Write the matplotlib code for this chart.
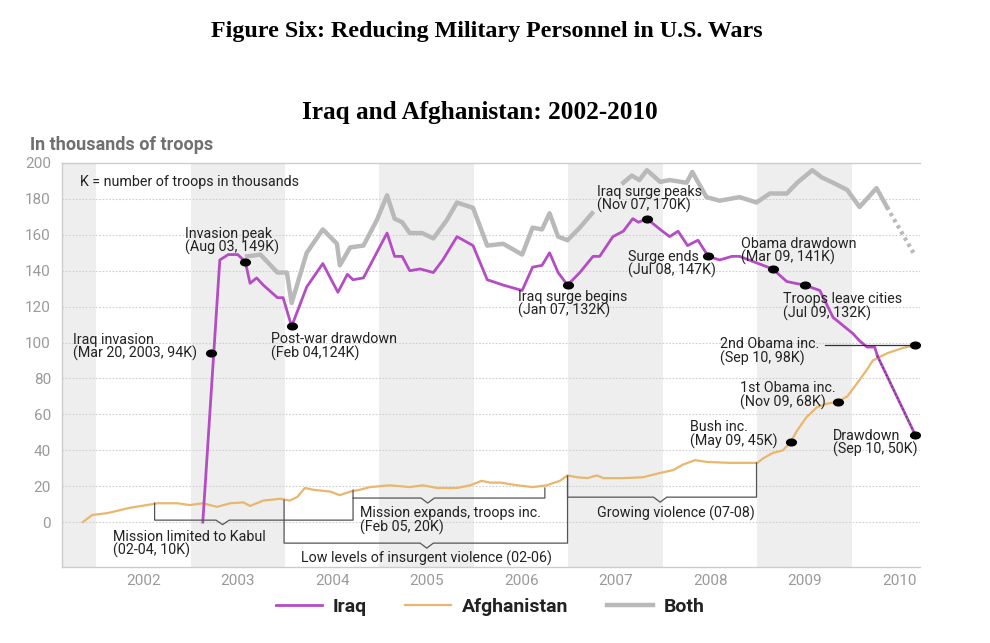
import numpy as np
import matplotlib
matplotlib.use("Agg")
import matplotlib.pyplot as plt
from matplotlib.lines import Line2D
from matplotlib.path import Path
import matplotlib.transforms as mtransforms

# values (decimal year, thousands of troops)
iraq_x = [2003.13, 2003.31, 2003.40, 2003.50, 2003.58, 2003.63, 2003.70, 2003.77, 2003.92, 2003.98,
          2004.07, 2004.23, 2004.40, 2004.56, 2004.66, 2004.72, 2004.83, 2005.08, 2005.16, 2005.24,
          2005.32, 2005.43, 2005.57, 2005.67, 2005.82, 2005.99, 2006.14, 2006.31, 2006.51, 2006.62,
          2006.72, 2006.80, 2006.89, 2006.99, 2007.12, 2007.26, 2007.33, 2007.47, 2007.58, 2007.68,
          2007.74, 2007.83, 2007.97, 2008.07, 2008.16, 2008.26, 2008.37, 2008.48, 2008.60, 2008.73,
          2008.81, 2009.16, 2009.31, 2009.40, 2009.50, 2009.66, 2009.80, 2010.01, 2010.08, 2010.16,
          2010.24, 2010.27]
iraq_y = [0, 146, 149, 149, 145, 133, 136, 132, 125, 125,
          109, 131, 144, 128, 138, 135, 136, 161, 148, 148,
          140, 141, 139, 146, 159, 154, 135, 132, 129, 142,
          143, 150, 139, 132, 139, 148, 148, 159, 162, 169,
          167, 169, 163, 159, 162, 154, 157, 148, 146, 148,
          148, 141, 134, 133, 132, 129, 114, 105, 101, 97.5,
          97.5, 92.5]
iraq_proj_x = [2010.27, 2010.67]
iraq_proj_y = [92.5, 48.5]

afgh_x = [2001.86, 2001.96, 2002.12, 2002.36, 2002.54, 2002.65, 2002.86, 2002.99, 2003.13, 2003.28,
          2003.42, 2003.56, 2003.63, 2003.77, 2003.95, 2004.05, 2004.13, 2004.21, 2004.30, 2004.48,
          2004.58, 2004.69, 2004.79, 2004.90, 2005.11, 2005.32, 2005.46, 2005.61, 2005.82, 2005.96,
          2006.08, 2006.17, 2006.28, 2006.46, 2006.62, 2006.77, 2006.91, 2006.99, 2007.09, 2007.20,
          2007.30, 2007.37, 2007.58, 2007.79, 2007.94, 2008.11, 2008.21, 2008.34, 2008.47, 2008.71,
          2009.00, 2009.06, 2009.16, 2009.27, 2009.35, 2009.42, 2009.52, 2009.63, 2009.74, 2009.85,
          2009.95, 2010.05, 2010.16, 2010.22, 2010.37, 2010.54, 2010.67]
afgh_y = [0, 4, 5, 8, 9.5, 10.5, 10.5, 9.5, 10.5, 8.5,
          10.5, 11, 9, 12, 13, 12, 14, 19, 18, 17,
          15, 17, 18, 19.5, 20.5, 19.5, 20.5, 19, 19, 20.5,
          23, 22, 22, 20.5, 19.5, 20.5, 23, 26, 25, 24.5,
          26, 24.5, 24.5, 25, 27, 29, 32, 34.5, 33.5, 33,
          33, 35.5, 38.5, 40, 44.5, 51, 58.5, 64, 66, 67,
          70, 77, 85, 90, 94, 97, 98.5]

# gap where the "Iraq surge peaks" label hides the line
both_x = [2003.60, 2003.74, 2003.92, 2004.02, 2004.07, 2004.23, 2004.40, 2004.55, 2004.58, 2004.69,
          2004.83, 2004.97, 2005.08, 2005.16, 2005.24, 2005.32, 2005.45, 2005.57, 2005.71, 2005.82,
          2005.99, 2006.14, 2006.31, 2006.51, 2006.62, 2006.72, 2006.80, 2006.89, 2006.99, 2007.12,
          2007.25, 2007.40, 2007.58, 2007.67, 2007.75, 2007.83, 2007.97, 2008.07, 2008.25, 2008.31,
          2008.46, 2008.60, 2008.81, 2008.99, 2009.13, 2009.31, 2009.42, 2009.58, 2009.68, 2009.80,
          2009.95, 2010.08, 2010.26, 2010.37]
both_y = [148, 149, 139, 139, 122, 150, 163, 155, 143, 153,
          154, 168, 182, 169, 167, 161, 161, 158, 168, 178,
          175, 154, 155, 149, 164, 163, 172, 159, 157, 164,
          172, np.nan, 189, 193, 190.5, 196, 189.5, 190.5, 189, 195,
          181, 179, 181, 178, 183, 183, 189, 196, 192, 189,
          185, 175.5, 186, 175.5]
both_proj_x = [2010.37, 2010.65]
both_proj_y = [175.5, 150]

# labelled events: dot position and label
event_x = [2003.22, 2003.58, 2004.07, 2006.99, 2007.83, 2008.48, 2009.16, 2009.50,
           2010.67, 2009.85, 2009.35, 2010.67]
event_y = [94, 145, 109, 132, 169, 148, 141, 132, 98.5, 67, 44.5, 48.5]
event_labels = ["Iraq invasion\n(Mar 20, 2003, 94K)", "Invasion peak\n(Aug 03, 149K)",
                "Post-war drawdown\n(Feb 04,124K)", "Iraq surge begins\n(Jan 07, 132K)",
                "Iraq surge peaks\n(Nov 07, 170K)", "Surge ends\n(Jul 08, 147K)",
                "Obama drawdown\n(Mar 09, 141K)", "Troops leave cities\n(Jul 09, 132K)",
                "2nd Obama inc.\n(Sep 10, 98K)", "1st Obama inc.\n(Nov 09, 68K)",
                "Bush inc.\n(May 09, 45K)", "Drawdown\n(Sep 10, 50K)"]
label_x = [2001.76, 2002.94, 2003.85, 2006.47, 2007.30, 2007.63, 2008.83, 2009.27,
           2008.60, 2008.82, 2008.29, 2009.80]
label_y = [97.5, 156.5, 98, 121.5, 180, 143.7, 151, 120, 95, 70.7, 49, 44]

shaded_years = [2001, 2003, 2005, 2007, 2009]
year_labels = ["2002", "2003", "2004", "2005", "2006", "2007", "2008", "2009", "2010"]
y_ticks = [0, 20, 40, 60, 80, 100, 120, 140, 160, 180, 200]

purple = "#b44cc4"
tan = "#e9b76c"
grey = "#b9b9b9"
bracket_col = "#555555"
ann_font = "Roboto"
ann_size = 10.3

fig = plt.figure(figsize=(9.9, 6.43), dpi=100)
ax = fig.add_axes([62 / 990, 76 / 643, 858 / 990, 404 / 643])
ax.set_xlim(2001.64, 2010.72)
ax.set_ylim(-25, 200)

for yr in shaded_years:
    ax.axvspan(yr, yr + 1, color="#eeeeee", lw=0, zorder=0)
for t in y_ticks[:-1]:
    ax.axhline(t, color="#cfcfcf", lw=0.8, ls=(0, (1.5, 1.5)), zorder=1)

ax.plot(both_x, both_y, color=grey, lw=3.2, zorder=2, solid_joinstyle="round")
ax.plot(both_proj_x, both_proj_y, color=grey, lw=3.0, ls=(0, (0.8, 0.9)), zorder=2)
ax.plot(afgh_x, afgh_y, color=tan, lw=1.6, zorder=3)
ax.plot(iraq_x, iraq_y, color=purple, lw=2.0, zorder=4)
ax.plot(iraq_proj_x, iraq_proj_y, color=purple, lw=2.0, zorder=4)
ax.plot(iraq_proj_x, iraq_proj_y, color="#444444", lw=1.0, ls=(0, (1, 2)), zorder=4)

# leader line for the 2nd Obama increase
ax.plot([2009.71, 2010.67], [98.5, 98.5], color="#333333", lw=0.9, zorder=4)

ellipse = Path.unit_circle().transformed(mtransforms.Affine2D().scale(1.45, 1.0))
ax.plot(event_x, event_y, ls="none", marker=ellipse, ms=7, color="black", zorder=6)
for lx, ly, txt in zip(label_x, label_y, event_labels):
    ax.text(lx, ly, txt, fontsize=ann_size, family=ann_font, color="#222222",
            ha="left", va="center", linespacing=0.95, zorder=7)

ax.text(2001.83, 189.4, "K = number of troops in thousands", fontsize=ann_size,
        family=ann_font, color="#222222", ha="left", va="center")

# brackets along the Afghanistan line
def bracket(x0, x1, ybar, ytop0, ytop1, xn, depth):
    ax.plot([x0, x0, xn - 0.07, xn, xn + 0.07, x1, x1],
            [ytop0, ybar, ybar, ybar - depth, ybar, ybar, ytop1],
            color=bracket_col, lw=0.9, zorder=5)

bracket(2002.62, 2004.72, 1.1, 10.6, 13.4, 2003.34, 2.5)
bracket(2003.99, 2006.99, -11.7, 12.3, 25.6, 2005.50, 2.8)
bracket(2004.72, 2006.75, 13.4, 17.8, 19.0, 2005.51, 2.8)
bracket(2006.99, 2008.99, 13.9, 25.6, 33.0, 2007.97, 2.8)

ax.text(2002.18, -12.2, "Mission limited to Kabul\n(02-04, 10K)", fontsize=ann_size,
        family=ann_font, color="#222222", ha="left", va="center", linespacing=0.95)
ax.text(2005.50, -20.2, "Low levels of insurgent violence (02-06)", fontsize=ann_size,
        family=ann_font, color="#222222", ha="center", va="center")
ax.text(2004.79, 1.1, "Mission expands, troops inc.\n(Feb 05, 20K)", fontsize=ann_size,
        family=ann_font, color="#222222", ha="left", va="center", linespacing=0.95)
ax.text(2008.14, 5.0, "Growing violence (07-08)", fontsize=ann_size,
        family=ann_font, color="#222222", ha="center", va="center")

ax.set_yticks(y_ticks)
ax.set_yticklabels([str(t) for t in y_ticks], family=ann_font, fontsize=11, color="#9a9a9a")
ax.set_xticks([2002.5 + i for i in range(len(year_labels))])
ax.set_xticklabels(year_labels, family=ann_font, fontsize=11, color="#9a9a9a")
ax.tick_params(length=0, pad=8)
ax.tick_params(axis="x", pad=5)
ax.spines["right"].set_visible(False)
for side in ["top", "left", "bottom"]:
    ax.spines[side].set_color("#cccccc")
    ax.spines[side].set_linewidth(1.0)

fig.text(0.030, 1 - 145 / 643, "In thousands of troops", fontsize=13, family=ann_font,
         fontweight="bold", color="#707070", ha="left", va="center")
fig.text(487 / 990, 1 - 32 / 643, "Figure Six: Reducing Military Personnel in U.S. Wars",
         fontsize=17.3, family="Liberation Serif", fontweight="bold", ha="center", va="center")
fig.text(480 / 990, 1 - 113 / 643, "Iraq and Afghanistan: 2002-2010",
         fontsize=18.2, family="Liberation Serif", fontweight="bold", ha="center", va="center")

handles = [Line2D([], [], color=purple, lw=2.0),
           Line2D([], [], color=tan, lw=1.6),
           Line2D([], [], color=grey, lw=3.2)]
leg = fig.legend(handles, ["Iraq", "Afghanistan", "Both"], loc="center",
                 bbox_to_anchor=(490 / 990, 1 - 607 / 643), ncol=3, frameon=False,
                 handlelength=2.35, columnspacing=2.0, handletextpad=0.55,
                 prop={"family": ann_font, "weight": "bold", "size": 14})
for t in leg.get_texts():
    t.set_color("#222222")

fig.savefig("out.png", dpi=100)
